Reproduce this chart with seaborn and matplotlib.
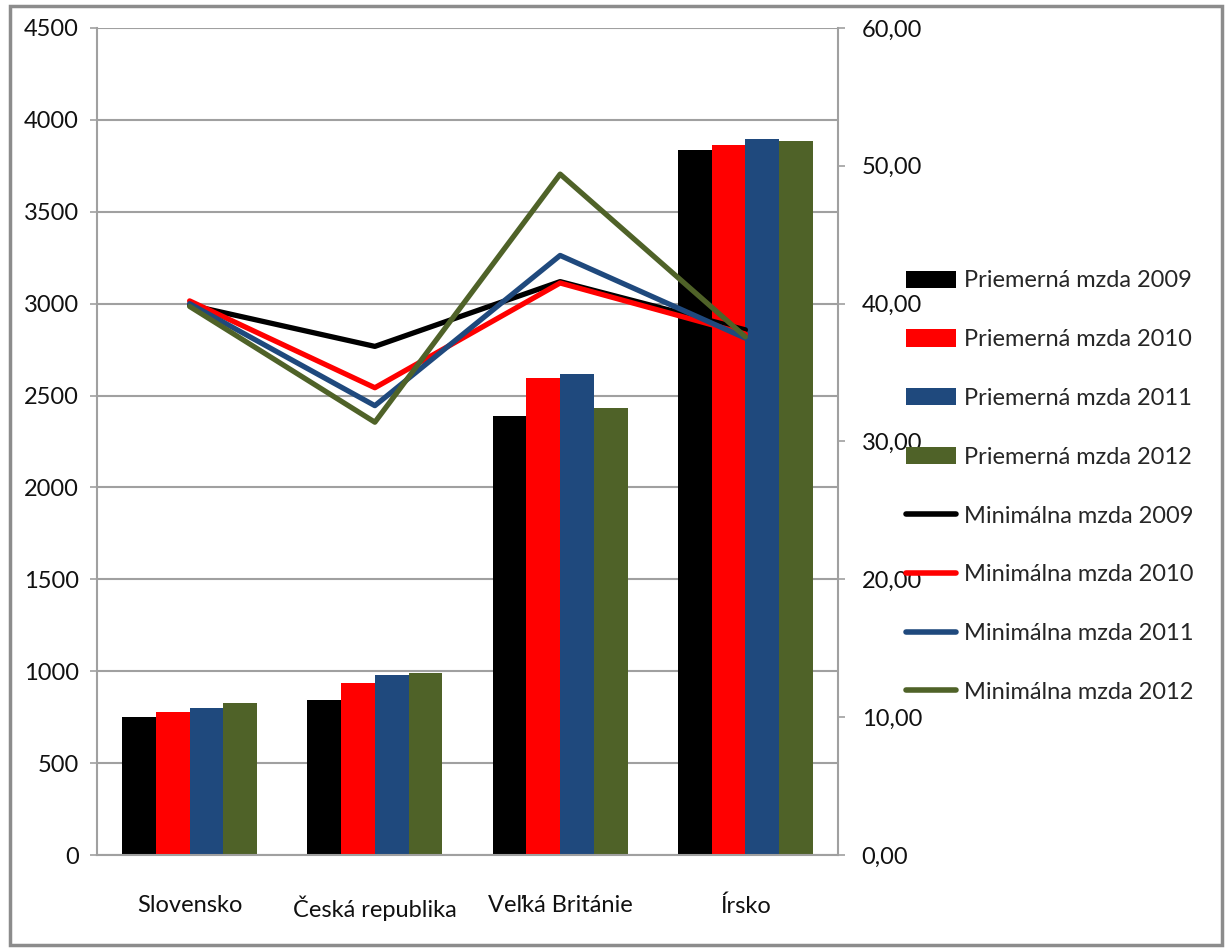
import numpy as np
import pandas as pd
import matplotlib
matplotlib.use("Agg")
import matplotlib.pyplot as plt
import seaborn as sns
from matplotlib.patches import Rectangle, Patch
from matplotlib.lines import Line2D
from matplotlib.ticker import FuncFormatter, FixedLocator, MultipleLocator

countries = ["Slovensko", "Česká republika", "Veľká Británie", "Írsko"]
bar_labels = ["Priemerná mzda 2009", "Priemerná mzda 2010", "Priemerná mzda 2011", "Priemerná mzda 2012"]
line_labels = ["Minimálna mzda 2009", "Minimálna mzda 2010", "Minimálna mzda 2011", "Minimálna mzda 2012"]

avg_2009 = [750, 843, 2390, 3836]
avg_2010 = [778, 936, 2595, 3861]
avg_2011 = [800, 979, 2617, 3895]
avg_2012 = [825, 990, 2432, 3886]

min_2009 = [39.9, 36.9, 41.6, 38.1]
min_2010 = [40.2, 33.9, 41.5, 37.8]
min_2011 = [40.0, 32.6, 43.5, 37.5]
min_2012 = [39.8, 31.4, 49.4, 37.6]

colors = ["#000000", "#FF0000", "#1F497D", "#4F6228"]

bars = pd.DataFrame({
    "country": countries * 4,
    "series": np.repeat(bar_labels, len(countries)),
    "value": avg_2009 + avg_2010 + avg_2011 + avg_2012,
})
lines = pd.DataFrame({
    "pos": list(range(len(countries))) * 4,
    "series": np.repeat(line_labels, len(countries)),
    "value": min_2009 + min_2010 + min_2011 + min_2012,
})

sns.set_style("white")
plt.rcParams["font.family"] = ["Lato", "DejaVu Sans"]
FS = 17
GRAY = "#a0a0a0"

fig = plt.figure(figsize=(12.27, 9.51), dpi=100)
ax = fig.add_axes([97/1227, 1-855/951, (838-97)/1227, (855-28)/951])

sns.barplot(data=bars, x="country", y="value", hue="series", palette=colors,
            width=0.73, saturation=1, gap=0, ax=ax, legend=False,
            edgecolor="none", linewidth=0, order=countries, hue_order=bar_labels)
ax.set_xlim(-0.5, 3.5)
ax.set_ylim(0, 4500)
ax.yaxis.set_major_locator(MultipleLocator(500))
ax.yaxis.grid(True, color=GRAY, lw=1.5)
ax.set_axisbelow(True)
ax.set_xlabel("")
ax.set_ylabel("")

for s in ["top", "right"]:
    ax.spines[s].set_visible(False)
for s in ["left", "bottom"]:
    ax.spines[s].set_color(GRAY)
    ax.spines[s].set_linewidth(1.5)

ax.tick_params(axis="y", direction="out", length=5, width=1.2, color=GRAY,
               labelsize=FS, pad=8, labelcolor="#111111")
ax.xaxis.set_minor_locator(FixedLocator([-0.5, 0.5, 1.5, 2.5, 3.5]))
ax.tick_params(axis="x", which="major", length=0, pad=29, labelsize=FS, labelcolor="#111111")
ax.tick_params(axis="x", which="minor", length=6, width=1.2, color=GRAY, direction="out")

ax2 = ax.twinx()
sns.lineplot(data=lines, x="pos", y="value", hue="series", palette=colors,
             hue_order=line_labels, lw=3.8, ax=ax2, legend=False, sort=False,
             estimator=None)
ax2.set_ylim(0, 60)
ax2.set_xlim(-0.5, 3.5)
ax2.yaxis.set_major_locator(MultipleLocator(10))
ax2.yaxis.set_major_formatter(FuncFormatter(lambda v, p: f"{v:.2f}".replace(".", ",")))
ax2.set_ylabel("")
ax2.set_xlabel("")
for s in ["top", "left", "bottom"]:
    ax2.spines[s].set_visible(False)
ax2.spines["right"].set_color(GRAY)
ax2.spines["right"].set_linewidth(1.5)
ax2.tick_params(axis="y", direction="out", length=5, width=1.2, color=GRAY,
                labelsize=FS, pad=12, labelcolor="#111111")
ax2.grid(False)

handles = [Patch(facecolor=c, edgecolor="none") for c in colors] + \
          [Line2D([0], [0], color=c, lw=4) for c in colors]
labels = bar_labels + line_labels
fig.legend(handles, labels, loc="upper left", bbox_to_anchor=(0.731, 0.7255),
           frameon=False, fontsize=FS, handlelength=2.1, handleheight=0.75,
           labelspacing=1.6, handletextpad=0.35, borderaxespad=0)

fig.patches.append(Rectangle((10/1227, 6/951), (1222-10)/1227, (945-6)/951,
                             transform=fig.transFigure, fill=False,
                             edgecolor="#8c8c8c", lw=2.5))

fig.savefig("out.png", dpi=100, facecolor="white")
